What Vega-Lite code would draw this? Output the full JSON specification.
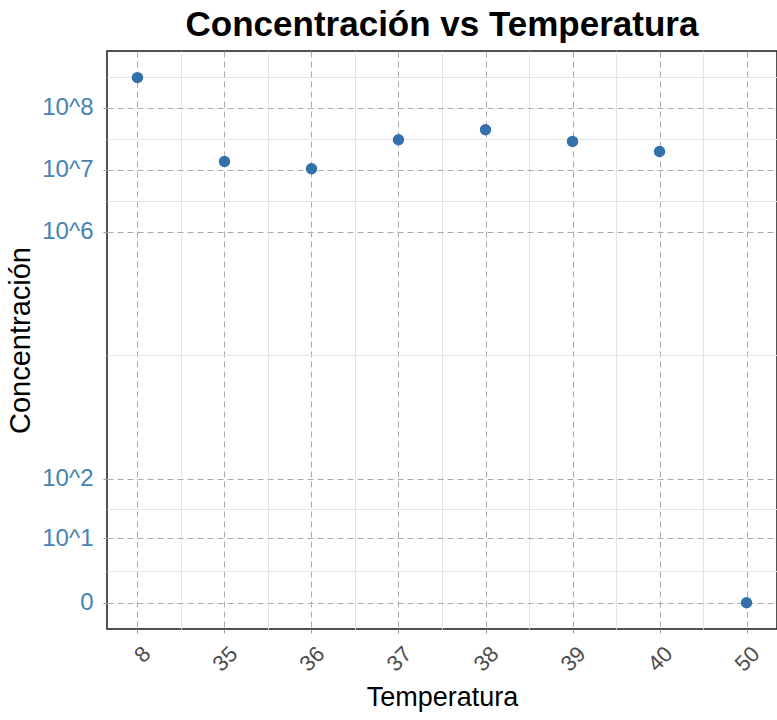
{
  "$schema": "https://vega.github.io/schema/vega-lite/v6.json",
  "autosize": {"type": "none"},
  "width": 670,
  "height": 578,
  "padding": {"left": 107, "top": 51, "right": 0, "bottom": 91},
  "background": "white",
  "config": {
    "font": "Liberation Sans",
    "view": {"stroke": "#1a1a1a", "strokeWidth": 1.5}
  },
  "title": {
    "text": "Concentración vs Temperatura",
    "font": "Liberation Sans",
    "fontSize": 35,
    "fontWeight": "bold",
    "color": "#000000",
    "anchor": "middle",
    "frame": "group",
    "offset": 8
  },
  "data": {
    "values": [
      {"Temperatura": "8", "Concentracion": 310000000},
      {"Temperatura": "35", "Concentracion": 13600000},
      {"Temperatura": "36", "Concentracion": 10400000},
      {"Temperatura": "37", "Concentracion": 30600000},
      {"Temperatura": "38", "Concentracion": 44500000},
      {"Temperatura": "39", "Concentracion": 28800000},
      {"Temperatura": "40", "Concentracion": 19800000},
      {"Temperatura": "50", "Concentracion": 0}
    ]
  },
  "layer": [
    {
      "mark": {"type": "point", "opacity": 0},
      "encoding": {
        "x": {
          "field": "Temperatura",
          "type": "ordinal",
          "sort": null,
          "scale": {"type": "point", "domain": ["8", "35", "36", "37", "38", "39", "40"], "padding": 0.85},
          "axis": {"orient": "bottom", "title": null, "labels": false, "ticks": false, "domain": false, "minExtent": 0, "maxExtent": 0, "grid": true, "gridColor": "#e4e4e4", "gridWidth": 1}
        },
        "y": {
          "field": "Concentracion",
          "type": "quantitative",
          "scale": {"type": "symlog", "constant": 1, "domain": [-1.661, 834000000], "nice": false, "zero": false},
          "axis": {"orient": "right", "title": null, "labels": false, "ticks": false, "domain": false, "minExtent": 0, "maxExtent": 0, "grid": true, "gridColor": "#e4e4e4", "gridWidth": 1,
                   "values": [2.317, 32.34, 10050, 3162277, 31622776, 316227766]}
        }
      }
    },
    {
      "mark": {"type": "point", "filled": true, "opacity": 1, "size": 130, "color": "#3470aa"},
      "encoding": {
        "x": {
          "field": "Temperatura",
          "type": "ordinal",
          "sort": null,
          "scale": {"type": "point", "padding": 0.35},
          "axis": {
            "orient": "bottom",
            "title": "Temperatura",
            "titleFont": "Liberation Sans",
            "titleFontSize": 27,
            "titleFontWeight": "normal",
            "titleColor": "#000000",
            "titlePadding": 9,
            "labelAngle": -45,
            "labelAlign": "right",
            "labelBaseline": "middle",
            "labelOffset": 9,
            "labelPadding": 17,
            "labelFontSize": 22,
            "labelColor": "#4d4d4d",
            "domain": false,
            "ticks": true,
            "tickSize": 4,
            "tickColor": "#9a9a9a",
            "grid": true,
            "gridColor": "#ababab",
            "gridDash": [6, 4],
            "gridWidth": 1
          }
        },
        "y": {
          "field": "Concentracion",
          "type": "quantitative",
          "title": "Concentración",
          "scale": {"type": "symlog", "constant": 1, "domain": [-1.661, 834000000], "nice": false, "zero": false},
          "axis": {
            "orient": "left",
            "values": [0, 10, 100, 1000000, 10000000, 100000000],
            "labelExpr": "datum.value == 0 ? '0' : '10^' + round(log(datum.value) / LN10)",
            "labelFontSize": 24,
            "labelColor": "#4682b4",
            "labelPadding": 10,
            "titleFont": "Liberation Sans",
            "titleFontSize": 29,
            "titleFontWeight": "normal",
            "titleColor": "#000000",
            "titlePadding": 6,
            "domain": false,
            "ticks": true,
            "tickSize": 4,
            "tickColor": "#9a9a9a",
            "grid": true,
            "gridColor": "#ababab",
            "gridDash": [6, 4],
            "gridWidth": 1
          }
        }
      }
    }
  ],
  "resolve": {"scale": {"x": "independent"}, "axis": {"x": "independent", "y": "independent"}}
}
